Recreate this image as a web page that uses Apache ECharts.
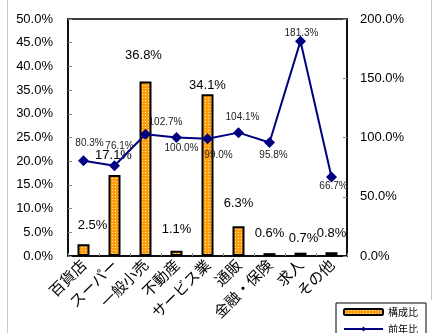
<!DOCTYPE html>
<html><head><meta charset="utf-8">
<script src="https://cdn.jsdelivr.net/npm/echarts@6/dist/echarts.min.js"></script>
<style>html,body{margin:0;padding:0;background:#fff}#c{width:441px;height:333px}</style>
</head><body><div id="c"></div>
<script>
const categories = ['百貨店','スーパー','一般小売','不動産','サービス業','通販','金融・保険','求人','その他'];
const shareValues = [2.5, 17.1, 36.8, 1.1, 34.1, 6.3, 0.6, 0.7, 0.8];
const yoyValues = [80.3, 76.1, 102.7, 100.0, 99.0, 104.1, 95.8, 181.3, 66.7];
const seriesNames = ['構成比','前年比'];

// label placement (layout only)
const barLabelOffsets = [[9,-12],[-1,-13],[-2,-19],[0,-14],[0,-2],[0,-16],[0,-13],[3,-7],[0,-12]];
const lineLabelOffsets = [[6,-18],[5,-20],[20,-12],[5,11],[11,17],[4,-15],[4,13],[1,-8],[2,9]];

const cv = document.createElement('canvas');
cv.width = 3; cv.height = 3;
const cx = cv.getContext('2d');
cx.fillStyle = '#FF9E0A'; cx.fillRect(0,0,3,3);
cx.fillStyle = '#FFE9C0'; cx.fillRect(1,1,1,1);

const num = "'Liberation Sans', Arial, sans-serif";
const jp = "'Noto Sans CJK JP', sans-serif";
const pct = v => v.toFixed(1) + '%';
const chart = echarts.init(document.getElementById('c'));
chart.setOption({
  animation: false,
  graphic: [
    {type:'line', shape:{x1:7.5,y1:0,x2:7.5,y2:333}, style:{stroke:'#c8c8c8',lineWidth:1}},
    {type:'line', shape:{x1:431.5,y1:0,x2:431.5,y2:300}, style:{stroke:'#c8c8c8',lineWidth:1}}
  ],
  grid: {left: 68, right: 94, top: 19, bottom: 77, show: true, borderColor: '#000', borderWidth: 1.5, backgroundColor: 'transparent'},
  legend: {
    orient: 'vertical', left: 336, top: 303, height: 60, padding: [4, 8, 6, 7],
    backgroundColor: '#fff', borderColor: '#000', borderWidth: 1,
    itemWidth: 39, itemHeight: 6, itemGap: 7,
    textStyle: {fontFamily: jp, fontSize: 10, color: '#000'},
    data: seriesNames
  },
  xAxis: {
    type: 'category', data: categories,
    axisLine: {show: true, lineStyle: {color: '#000', width: 1.5}},
    axisTick: {show: true, inside: true, length: 3, lineStyle: {color: '#888'}},
    axisLabel: {rotate: 45, interval: 0, margin: 6, fontFamily: jp, fontSize: 15, color: '#000'}
  },
  yAxis: [
    {type: 'value', min: 0, max: 50, interval: 5, position: 'left',
     axisLine: {show: true, lineStyle: {color: '#000', width: 1.5}},
     axisTick: {show: true, inside: true, length: 4, lineStyle: {color: '#888'}},
     splitLine: {show: false},
     axisLabel: {formatter: pct, fontFamily: num, fontSize: 13, color: '#000', margin: 15}},
    {type: 'value', min: 0, max: 200, interval: 50, position: 'right',
     axisLine: {show: true, lineStyle: {color: '#000', width: 1.5}},
     axisTick: {show: true, inside: true, length: 4, lineStyle: {color: '#888'}},
     splitLine: {show: false},
     axisLabel: {formatter: pct, fontFamily: num, fontSize: 13, color: '#000', margin: 13}}
  ],
  series: [
    {name: seriesNames[0], type: 'bar', yAxisIndex: 0, barWidth: 12,
     data: shareValues.map((v, i) => ({value: v, label: {offset: barLabelOffsets[i]}})),
     itemStyle: {color: {image: cv, repeat: 'repeat'}, borderColor: '#000', borderWidth: 2},
     label: {show: true, position: 'top', distance: 0, formatter: p => pct(p.value), fontFamily: num, fontSize: 13, lineHeight: 14, color: '#000'}},
    {name: seriesNames[1], type: 'line', yAxisIndex: 1, z: 5,
     data: yoyValues.map((v, i) => ({value: v, label: {offset: lineLabelOffsets[i]}})),
     symbol: 'diamond', symbolSize: 11,
     lineStyle: {color: '#000080', width: 2}, itemStyle: {color: '#000080'},
     label: {show: true, position: 'inside', align: 'center', verticalAlign: 'middle', formatter: p => pct(p.value), fontFamily: num, fontSize: 10, color: '#222'}}
  ]
});
</script></body></html>
